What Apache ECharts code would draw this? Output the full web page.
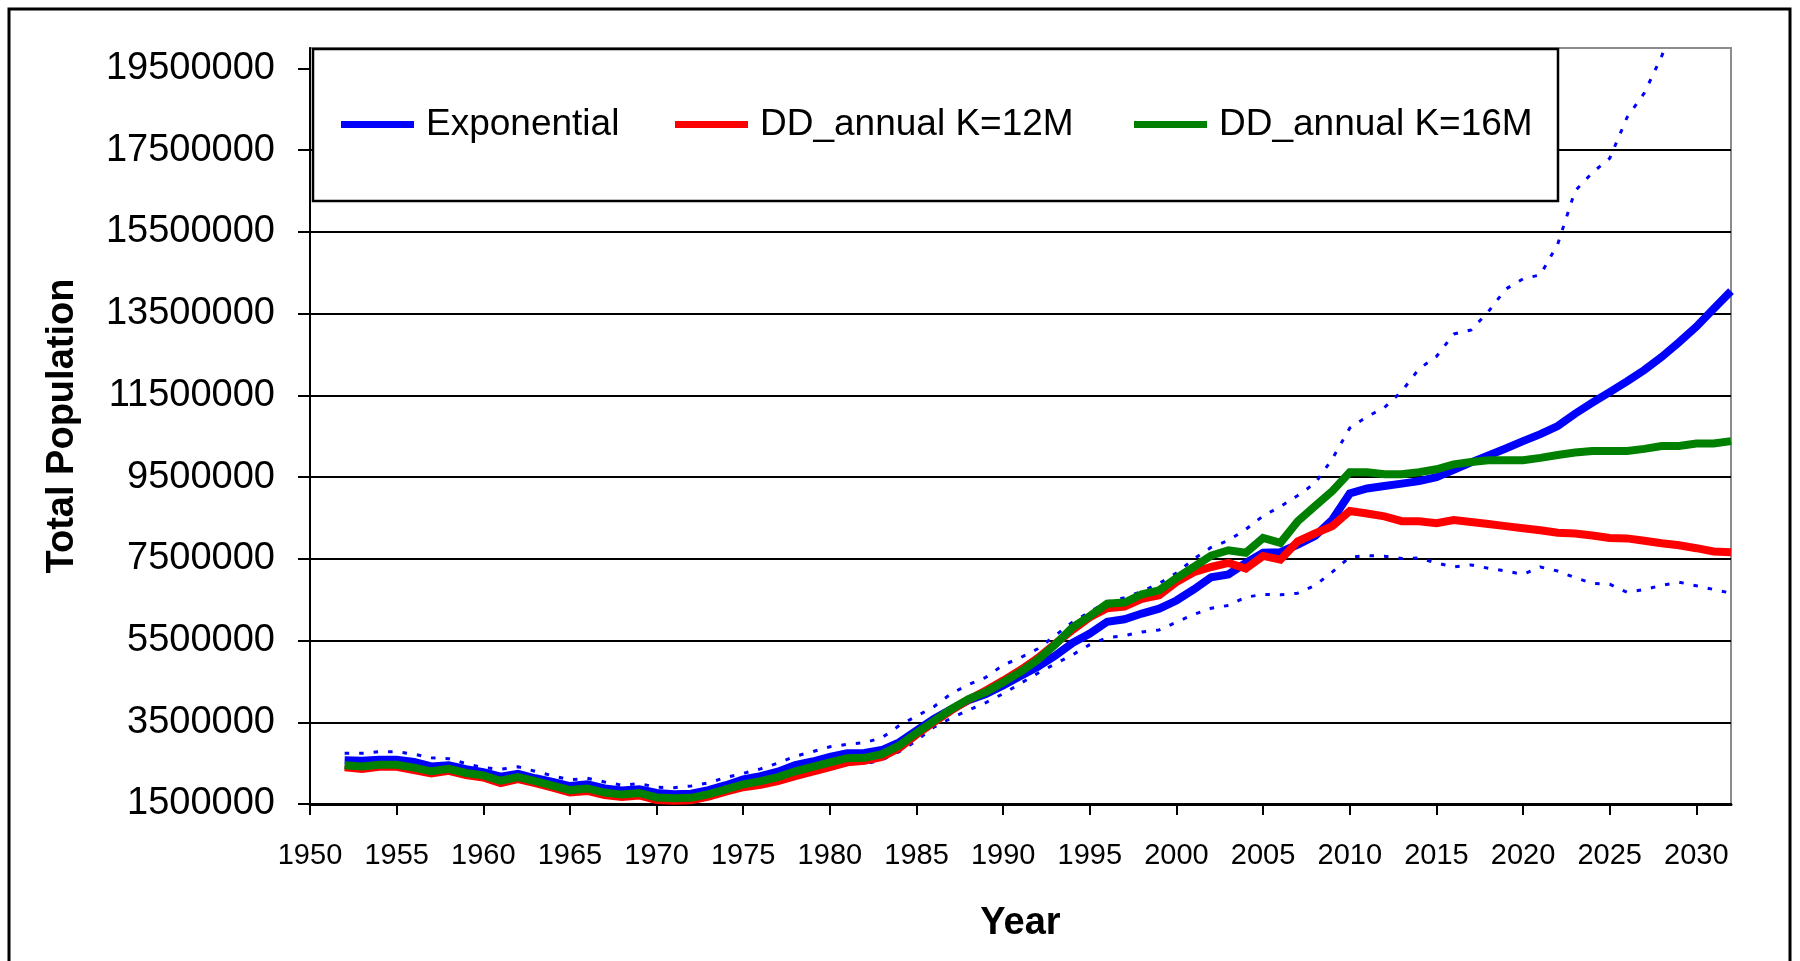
<!DOCTYPE html>
<html>
<head>
<meta charset="utf-8">
<script src="https://cdn.jsdelivr.net/npm/echarts@6/dist/echarts.min.js"></script>
<style>
  html, body { margin: 0; padding: 0; background: #fff; }
  #chart { width: 1800px; height: 961px; }
</style>
</head>
<body>
<div id="chart"></div>
<script>
// ---- Data (population in millions) ----
const years = [1952,1953,1954,1955,1956,1957,1958,1959,1960,1961,1962,1963,1964,1965,1966,1967,1968,1969,1970,1971,
  1972,1973,1974,1975,1976,1977,1978,1979,1980,1981,1982,1983,1984,1985,1986,1987,1988,1989,1990,1991,
  1992,1993,1994,1995,1996,1997,1998,1999,2000,2001,2002,2003,2004,2005,2006,2007,2008,2009,2010,2011,
  2012,2013,2014,2015,2016,2017,2018,2019,2020,2021,2022,2023,2024,2025,2026,2027,2028,2029,2030,2031,2032];

const exponential = [2.57,2.56,2.58,2.58,2.53,2.42,2.45,2.35,2.28,2.17,2.24,2.13,2.04,1.94,1.98,1.88,1.83,1.86,1.77,1.74,
  1.75,1.84,1.96,2.10,2.18,2.29,2.45,2.54,2.65,2.74,2.75,2.82,3.01,3.30,3.58,3.82,4.04,4.19,4.40,4.63,
  4.86,5.13,5.44,5.67,5.96,6.02,6.16,6.28,6.48,6.75,7.05,7.12,7.40,7.65,7.66,7.85,8.06,8.46,9.10,9.22,
  9.28,9.34,9.40,9.50,9.68,9.86,10.03,10.20,10.38,10.55,10.75,11.05,11.32,11.58,11.84,12.12,12.44,12.80,13.18,13.62,14.05];

const ddK12 = [2.40,2.36,2.41,2.41,2.33,2.25,2.31,2.21,2.15,2.01,2.11,2.01,1.90,1.78,1.82,1.72,1.67,1.71,1.60,1.58,
  1.59,1.68,1.80,1.91,1.97,2.06,2.18,2.29,2.40,2.52,2.56,2.65,2.87,3.20,3.50,3.79,4.05,4.28,4.52,4.78,
  5.07,5.42,5.76,6.07,6.29,6.33,6.52,6.61,6.93,7.17,7.30,7.40,7.26,7.57,7.48,7.93,8.12,8.30,8.67,8.61,
  8.54,8.42,8.42,8.37,8.45,8.40,8.35,8.30,8.25,8.20,8.14,8.12,8.07,8.01,8.00,7.94,7.88,7.83,7.76,7.68,7.66];

const ddK16 = [2.45,2.42,2.46,2.46,2.39,2.30,2.36,2.26,2.20,2.07,2.16,2.06,1.95,1.84,1.88,1.78,1.73,1.77,1.66,1.64,
  1.65,1.74,1.86,1.98,2.06,2.16,2.30,2.41,2.52,2.62,2.63,2.72,2.93,3.24,3.53,3.82,4.07,4.24,4.48,4.73,
  5.03,5.40,5.82,6.10,6.40,6.43,6.63,6.73,7.03,7.30,7.58,7.71,7.65,8.01,7.89,8.42,8.79,9.16,9.62,9.62,
  9.57,9.57,9.62,9.69,9.81,9.87,9.91,9.91,9.91,9.97,10.04,10.10,10.14,10.14,10.14,10.19,10.26,10.26,10.32,10.32,10.38];

const expUpper = [2.74,2.74,2.78,2.78,2.72,2.63,2.61,2.49,2.39,2.35,2.41,2.30,2.19,2.09,2.13,2.04,1.96,2.00,1.91,1.90,
  1.94,2.02,2.15,2.25,2.36,2.50,2.67,2.78,2.90,2.96,3.00,3.12,3.42,3.65,3.88,4.20,4.42,4.60,4.90,5.08,
  5.30,5.62,5.95,6.20,6.45,6.55,6.70,6.90,7.15,7.50,7.78,7.95,8.22,8.55,8.78,9.05,9.35,9.95,10.70,10.98,
  11.20,11.60,12.15,12.45,13.00,13.10,13.55,14.10,14.35,14.45,15.20,16.50,16.95,17.30,18.30,18.90,19.80,20.90,22.00,23.20,24.50];

const expLower = [2.40,2.38,2.38,2.38,2.34,2.21,2.29,2.21,2.17,1.99,2.07,1.96,1.89,1.79,1.83,1.72,1.70,1.72,1.63,1.58,
  1.56,1.66,1.77,1.95,2.00,2.08,2.23,2.30,2.40,2.52,2.48,2.58,2.78,3.05,3.38,3.60,3.80,3.98,4.20,4.45,
  4.70,4.93,5.15,5.40,5.57,5.62,5.71,5.76,5.95,6.14,6.29,6.36,6.56,6.63,6.62,6.66,6.85,7.18,7.54,7.58,
  7.56,7.51,7.52,7.40,7.30,7.35,7.27,7.20,7.12,7.30,7.20,7.04,6.90,6.88,6.68,6.75,6.85,6.93,6.84,6.75,6.66];

const xTicks = [1950,1955,1960,1965,1970,1975,1980,1985,1990,1995,2000,2005,2010,2015,2020,2025,2030];
const yTicks = [1.5,3.5,5.5,7.5,9.5,11.5,13.5,15.5,17.5,19.5];

const seriesNames = ['Exponential', 'DD_annual K=12M', 'DD_annual K=16M'];

// ---- Chart ----
const FONT = "'Liberation Sans', Arial, sans-serif";
const pair = arr => years.map((y, i) => [y, arr[i]]);

const chart = echarts.init(document.getElementById('chart'), null, { renderer: 'canvas' });

const legendBase = {
  orient: 'horizontal', top: 106, padding: 0, z: 20,
  itemWidth: 73, itemHeight: 7, icon: 'rect', selectedMode: false,
  textStyle: { fontFamily: FONT, fontSize: 37, color: '#000', padding: [0, 0, 0, 7] }
};

chart.setOption({
  animation: false,
  backgroundColor: '#fff',
  grid: { left: 310, right: 69, top: 48, bottom: 157, show: true, borderColor: '#8c8c8c', borderWidth: 2, backgroundColor: 'transparent' },
  legend: [
    Object.assign({}, legendBase, { left: 341, data: [seriesNames[0]] }),
    Object.assign({}, legendBase, { left: 675, data: [seriesNames[1]] }),
    Object.assign({}, legendBase, { left: 1134, data: [seriesNames[2]] })
  ],
  graphic: [
    { type: 'rect', z: 0, shape: { x: 9, y: 9, width: 1781, height: 970 },
      style: { fill: 'transparent', stroke: '#000', lineWidth: 3 } },
    { type: 'rect', z: 15, shape: { x: 313, y: 49, width: 1245, height: 152 },
      style: { fill: '#fff', stroke: '#000', lineWidth: 2.5 } }
  ],
  xAxis: {
    type: 'value', min: 1950, max: 2032, interval: 5,
    name: 'Year', nameLocation: 'middle', nameGap: 101,
    nameTextStyle: { fontFamily: FONT, fontSize: 38, fontWeight: 'bold', color: '#000' },
    axisLine: { show: true, onZero: false, lineStyle: { color: '#000', width: 3 } },
    axisTick: { show: true, inside: false, length: 11, lineStyle: { color: '#000', width: 2 }, customValues: xTicks },
    axisLabel: { fontFamily: FONT, fontSize: 29, color: '#000', margin: 37, customValues: xTicks,
      formatter: v => String(v) },
    splitLine: { show: false }
  },
  yAxis: {
    type: 'value', min: 1.5, max: 20, interval: 2,
    name: 'Total Population', nameLocation: 'middle', nameGap: 228,
    nameTextStyle: { fontFamily: FONT, fontSize: 38, fontWeight: 'bold', color: '#000' },
    axisLine: { show: true, onZero: false, lineStyle: { color: '#000', width: 2 } },
    axisTick: { show: true, inside: false, length: 12, lineStyle: { color: '#000', width: 2 }, customValues: yTicks },
    axisLabel: { fontFamily: FONT, fontSize: 38, color: '#000', margin: 35, customValues: yTicks,
      formatter: v => String(Math.round(v * 1000000)) },
    splitLine: { show: true, showMaxLine: false, lineStyle: { color: '#000', width: 2 } }
  },
  series: [
    { name: 'upper', type: 'line', data: pair(expUpper), showSymbol: false, clip: true, z: 2,
      lineStyle: { color: '#0000ff', width: 3, type: [4.5, 10], cap: 'butt' }, silent: true },
    { name: 'lower', type: 'line', data: pair(expLower), showSymbol: false, clip: true, z: 2,
      lineStyle: { color: '#0000ff', width: 3, type: [4.5, 10], cap: 'butt' }, silent: true },
    { name: seriesNames[0], type: 'line', data: pair(exponential), showSymbol: false, clip: true, z: 3,
      itemStyle: { color: '#0000ff' }, lineStyle: { color: '#0000ff', width: 8, join: 'miter' } },
    { name: seriesNames[1], type: 'line', data: pair(ddK12), showSymbol: false, clip: true, z: 3,
      itemStyle: { color: '#ff0000' }, lineStyle: { color: '#ff0000', width: 8, join: 'miter' } },
    { name: seriesNames[2], type: 'line', data: pair(ddK16), showSymbol: false, clip: true, z: 3,
      itemStyle: { color: '#008000' }, lineStyle: { color: '#008000', width: 8, join: 'miter' } }
  ]
});
</script>
</body>
</html>
